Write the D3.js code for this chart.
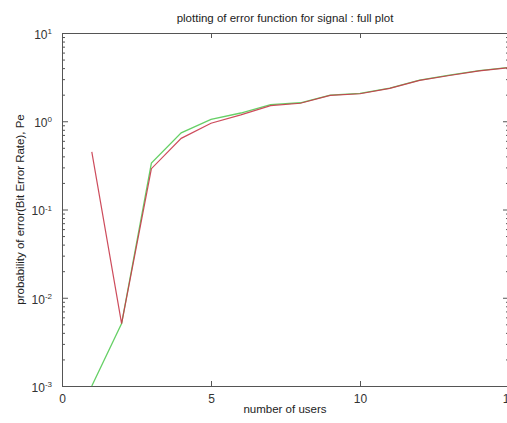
<!DOCTYPE html>
<html>
<head>
<meta charset="utf-8">
<script src="https://cdn.jsdelivr.net/npm/d3@7"></script>
<style>
  body { margin: 0; background: #fff; }
  svg { display: block; font-family: "Liberation Sans", Arial, sans-serif; }
  .axis path, .axis line { stroke: #555; }
  .axis text { fill: #333; font-size: 12px; }
</style>
</head>
<body>
<div id="chart"></div>
<script>
// number of users
var users = [1, 2, 3, 4, 5, 6, 7, 8, 9, 10, 11, 12, 13, 14, 15];
// bit error rate, two curves
var peRed   = [0.45, 0.0051, 0.29, 0.64, 0.95, 1.18, 1.5, 1.6, 1.96, 2.05, 2.36, 2.9, 3.3, 3.72, 4.05];
var peGreen = [0.001, 0.0051, 0.335, 0.74, 1.05, 1.24, 1.54, 1.62, 1.98, 2.07, 2.38, 2.93, 3.34, 3.74, 4.08];
var xTicks = [0, 5, 10, 15];
var yTicks = [1e-3, 1e-2, 1e-1, 1e0, 1e1];

(function () {
    var width = 507, height = 423,
        margins = { left: 62, top: 33, right: -2, bottom: 37 },
        x = d3.scaleLinear().domain([0, 15]).range([margins.left, width - margins.right]),
        y = d3.scaleLog().domain([1e-3, 10]).range([height - margins.bottom, margins.top]);

    var svg = d3.select('#chart').append('svg')
        .attr('width', width).attr('height', height);

    var minor = [];
    for (var e = -3; e < 1; e++) {
        for (var m = 2; m < 10; m++) minor.push(m * Math.pow(10, e));
    }

    // minor ticks left/right
    svg.append('g').attr('class', 'axis')
        .attr('transform', 'translate(' + x(0) + ',0)')
        .call(d3.axisLeft(y).tickValues(minor).tickSize(-3).tickFormat(''))
        .select('.domain').remove();
    svg.append('g').attr('class', 'axis')
        .attr('transform', 'translate(' + x(15) + ',0)')
        .call(d3.axisRight(y).tickValues(minor).tickSize(-3).tickFormat(''))
        .select('.domain').remove();

    // major ticks
    var left = svg.append('g').attr('class', 'axis')
        .attr('transform', 'translate(' + x(0) + ',0)')
        .call(d3.axisLeft(y).tickValues(yTicks).tickSizeInner(-6).tickSizeOuter(0).tickPadding(10)
            .tickFormat(''));
    left.selectAll('.tick text').each(function (d) {
        var t = d3.select(this).attr('dy', '0.45em');
        t.append('tspan').text('10');
        t.append('tspan').attr('dy', '-0.6em').attr('font-size', '8px').text(Math.round(Math.log10(d)));
    });
    svg.append('g').attr('class', 'axis')
        .attr('transform', 'translate(' + x(15) + ',0)')
        .call(d3.axisRight(y).tickValues(yTicks).tickSizeInner(-6).tickSizeOuter(0).tickFormat(''));

    svg.append('g').attr('class', 'axis')
        .attr('transform', 'translate(0,' + y(1e-3) + ')')
        .call(d3.axisBottom(x).tickValues(xTicks).tickSizeInner(-5).tickSizeOuter(0).tickPadding(8)
            .tickFormat(d3.format('d')));
    svg.append('g').attr('class', 'axis')
        .attr('transform', 'translate(0,' + y(10) + ')')
        .call(d3.axisTop(x).tickValues(xTicks).tickSizeInner(-5).tickSizeOuter(0).tickFormat(''));

    var line = d3.line()
        .x(function (d) { return x(d[0]); })
        .y(function (d) { return y(d[1]); });

    svg.append('path')
        .datum(users.map(function (u, i) { return [u, peGreen[i]]; }))
        .attr('fill', 'none').attr('stroke', '#66d066').attr('stroke-width', 1.3)
        .attr('d', line);
    svg.append('path')
        .datum(users.map(function (u, i) { return [u, peRed[i]]; }))
        .attr('fill', 'none').attr('stroke', '#c8384a').attr('stroke-width', 1.2)
        .attr('opacity', 0.9)
        .attr('d', line);

    svg.append('text')
        .attr('x', 285).attr('y', 22)
        .attr('text-anchor', 'middle').attr('font-size', '11.5px').attr('fill', '#222')
        .text('plotting of error function for signal : full plot');

    svg.append('text')
        .attr('x', 285).attr('y', 413)
        .attr('text-anchor', 'middle').attr('font-size', '11.5px').attr('fill', '#222')
        .text('number of users');

    svg.append('text')
        .attr('transform', 'translate(24,' + ((y(10) + y(1e-3)) / 2) + ') rotate(-90)')
        .attr('text-anchor', 'middle').attr('font-size', '11.5px').attr('fill', '#222')
        .text('probability of error(Bit Error Rate), Pe');
})();
</script>
</body>
</html>
